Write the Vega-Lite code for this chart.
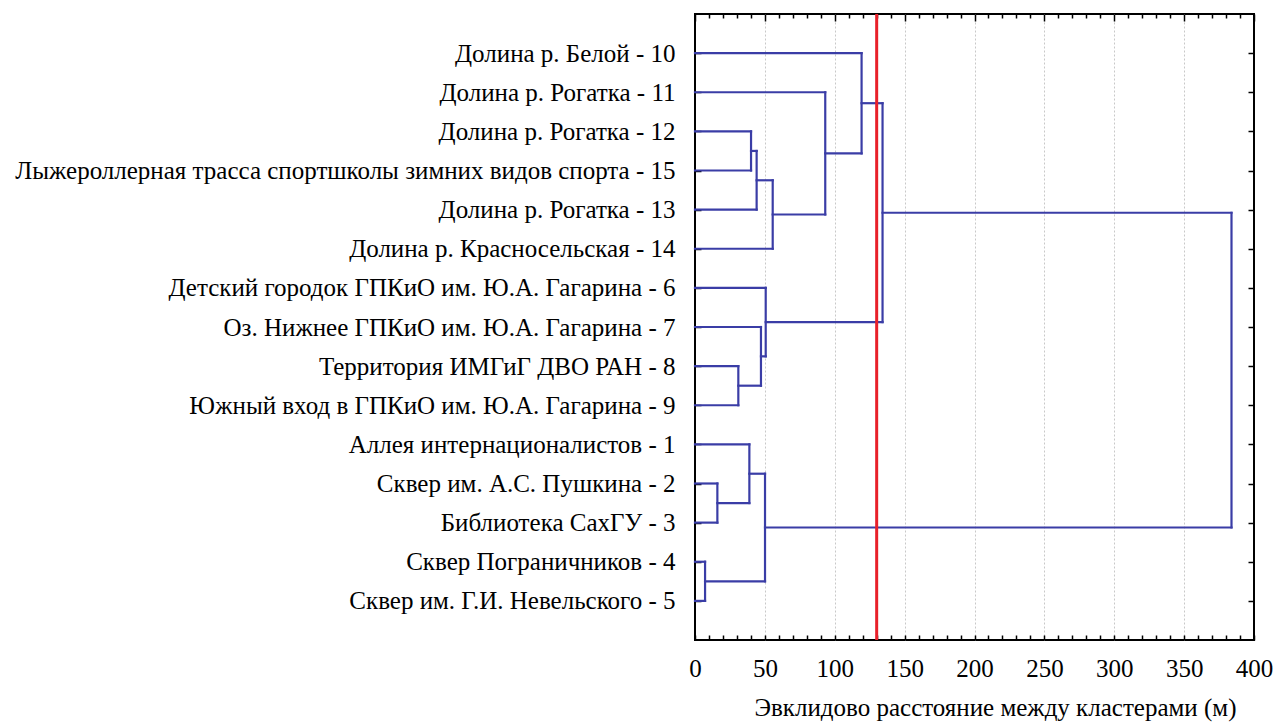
{
  "$schema": "https://vega.github.io/schema/vega-lite/v6.json",
  "autosize": "none",
  "width": 559,
  "height": 626,
  "padding": {"left": 695, "top": 14, "right": 21, "bottom": 84},
  "background": "white",
  "config": {
    "font": "Liberation Serif",
    "view": {"stroke": "black", "strokeWidth": 2},
    "axis": {"labelFont": "Liberation Serif", "titleFont": "Liberation Serif", "labelColor": "black", "titleColor": "black", "tickColor": "black", "domain": false}
  },
  "layer": [
    {
      "data": {"values": [
        {"x": 0, "x2": 119.2, "y": 1, "y2": 1},
        {"x": 0, "x2": 93.2, "y": 2, "y2": 2},
        {"x": 0, "x2": 40.1, "y": 3, "y2": 3},
        {"x": 0, "x2": 40.1, "y": 4, "y2": 4},
        {"x": 0, "x2": 44.1, "y": 5, "y2": 5},
        {"x": 0, "x2": 55.6, "y": 6, "y2": 6},
        {"x": 0, "x2": 50.6, "y": 7, "y2": 7},
        {"x": 0, "x2": 47.2, "y": 8, "y2": 8},
        {"x": 0, "x2": 31, "y": 9, "y2": 9},
        {"x": 0, "x2": 31, "y": 10, "y2": 10},
        {"x": 0, "x2": 38.9, "y": 11, "y2": 11},
        {"x": 0, "x2": 16, "y": 12, "y2": 12},
        {"x": 0, "x2": 16, "y": 13, "y2": 13},
        {"x": 0, "x2": 7.2, "y": 14, "y2": 14},
        {"x": 0, "x2": 7.2, "y": 15, "y2": 15},
        {"x": 40.1, "x2": 44.1, "y": 3.5, "y2": 3.5},
        {"x": 44.1, "x2": 55.6, "y": 4.25, "y2": 4.25},
        {"x": 55.6, "x2": 93.2, "y": 5.125, "y2": 5.125},
        {"x": 93.2, "x2": 119.2, "y": 3.5625, "y2": 3.5625},
        {"x": 119.2, "x2": 134.2, "y": 2.28, "y2": 2.28},
        {"x": 31, "x2": 47.2, "y": 9.5, "y2": 9.5},
        {"x": 47.2, "x2": 50.6, "y": 8.75, "y2": 8.75},
        {"x": 50.6, "x2": 134.2, "y": 7.875, "y2": 7.875},
        {"x": 134.2, "x2": 383.9, "y": 5.08, "y2": 5.08},
        {"x": 16, "x2": 38.9, "y": 12.5, "y2": 12.5},
        {"x": 38.9, "x2": 50.1, "y": 11.75, "y2": 11.75},
        {"x": 7.2, "x2": 50.1, "y": 14.5, "y2": 14.5},
        {"x": 50.1, "x2": 383.9, "y": 13.125, "y2": 13.125},
        {"x": 40.1, "x2": 40.1, "y": 3, "y2": 4},
        {"x": 44.1, "x2": 44.1, "y": 3.5, "y2": 5},
        {"x": 55.6, "x2": 55.6, "y": 4.25, "y2": 6},
        {"x": 93.2, "x2": 93.2, "y": 2, "y2": 5.125},
        {"x": 119.2, "x2": 119.2, "y": 1, "y2": 3.5625},
        {"x": 134.2, "x2": 134.2, "y": 2.28, "y2": 7.875},
        {"x": 31, "x2": 31, "y": 9, "y2": 10},
        {"x": 47.2, "x2": 47.2, "y": 8, "y2": 9.5},
        {"x": 50.6, "x2": 50.6, "y": 7, "y2": 8.75},
        {"x": 383.9, "x2": 383.9, "y": 5.08, "y2": 13.125},
        {"x": 16, "x2": 16, "y": 12, "y2": 13},
        {"x": 38.9, "x2": 38.9, "y": 11, "y2": 12.5},
        {"x": 7.2, "x2": 7.2, "y": 14, "y2": 15},
        {"x": 50.1, "x2": 50.1, "y": 11.75, "y2": 14.5}
      ]},
      "mark": {"type": "rule", "color": "#3a3da6", "strokeWidth": 2.2, "strokeCap": "square"},
      "encoding": {
        "x": {"field": "x", "type": "quantitative",
          "scale": {"domain": [0, 400], "nice": false, "zero": false},
          "axis": {
            "orient": "bottom",
            "values": [0,10,20,30,40,50,60,70,80,90,100,110,120,130,140,150,160,170,180,190,200,210,220,230,240,250,260,270,280,290,300,310,320,330,340,350,360,370,380,390,400],
            "labelExpr": "datum.value % 50 === 0 ? datum.label : ''",
            "ticks": true,
            "tickSize": -5,
            "tickWidth": 1.5,
            "tickColor": "black",
            "grid": true,
            "gridColor": "#c8c8c8",
            "gridDash": [2, 2],
            "gridWidth": 1,
            "gridOpacity": {"condition": {"test": "datum.value % 50 === 0 && datum.value > 0 && datum.value < 400", "value": 1}, "value": 0},
            "labelFont": "Liberation Serif",
            "labelFontSize": 25,
            "labelPadding": 21,
            "labelFlush": false,
            "labelOverlap": false,
            "title": "Эвклидово расстояние между кластерами (м)",
            "titleFont": "Liberation Serif",
            "titleFontSize": 25,
            "titleFontWeight": "normal",
            "titleX": 300,
            "titlePadding": 14
          }},
        "x2": {"field": "x2"},
        "y": {"field": "y", "type": "quantitative",
          "scale": {"domain": [0, 16], "reverse": true, "nice": false, "zero": false},
          "axis": {
            "orient": "left",
            "values": [1,2,3,4,5,6,7,8,9,10,11,12,13,14,15],
            "labelExpr": "['', 'Долина р. Белой - 10', 'Долина р. Рогатка - 11', 'Долина р. Рогатка - 12', 'Лыжероллерная трасса спортшколы зимних видов спорта - 15', 'Долина р. Рогатка - 13', 'Долина р. Красносельская - 14', 'Детский городок ГПКиО им. Ю.А. Гагарина - 6', 'Оз. Нижнее ГПКиО им. Ю.А. Гагарина - 7', 'Территория ИМГиГ ДВО РАН - 8', 'Южный вход в ГПКиО им. Ю.А. Гагарина - 9', 'Аллея интернационалистов - 1', 'Сквер им. А.С. Пушкина - 2', 'Библиотека СахГУ - 3', 'Сквер Пограничников - 4', 'Сквер им. Г.И. Невельского - 5'][datum.value]",
            "tickSize": -6,
            "tickWidth": 1.5,
            "grid": false,
            "labelFont": "Liberation Serif",
            "labelFontSize": 25,
            "labelPadding": 26,
            "labelLimit": 0,
            "labelOverlap": false,
            "title": null
          }},
        "y2": {"field": "y2"}
      }
    },
    {
      "data": {"values": [{"x": 130, "y": 0, "y2": 16}]},
      "mark": {"type": "rule", "color": "#e8202a", "strokeWidth": 3},
      "encoding": {
        "x": {"field": "x", "type": "quantitative",
          "scale": {"domain": [0, 400], "nice": false, "zero": false},
          "axis": {
            "orient": "top",
            "values": [0,10,20,30,40,50,60,70,80,90,100,110,120,130,140,150,160,170,180,190,200,210,220,230,240,250,260,270,280,290,300,310,320,330,340,350,360,370,380,390,400],
            "labels": false,
            "grid": false,
            "tickSize": {"condition": {"test": "datum.value % 50 === 0", "value": -7}, "value": -4},
            "tickWidth": 1.5,
            "title": null
          }},
        "y": {"field": "y", "type": "quantitative",
          "scale": {"domain": [0, 16], "reverse": true, "nice": false, "zero": false},
          "axis": {
            "orient": "right",
            "values": [1,2,3,4,5,6,7,8,9,10,11,12,13,14,15],
            "labels": false,
            "grid": false,
            "tickSize": -6,
            "tickWidth": 1.5,
            "title": null
          }},
        "y2": {"field": "y2"}
      }
    }
  ],
  "resolve": {"axis": {"x": "independent", "y": "independent"}}
}
